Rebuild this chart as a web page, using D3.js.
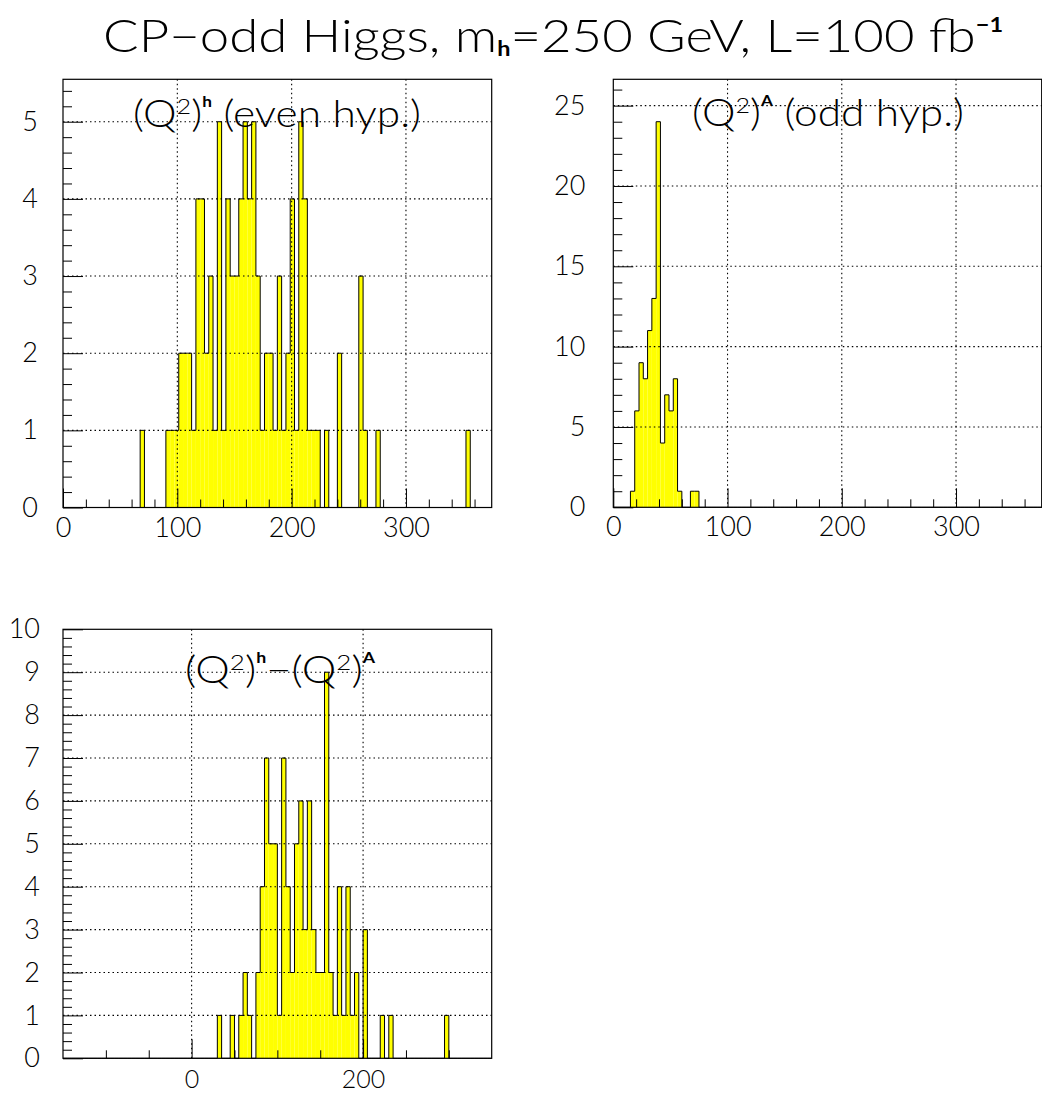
<!DOCTYPE html>
<html>
<head>
<meta charset="utf-8">
<script src="https://cdn.jsdelivr.net/npm/d3@7"></script>
<style>
  body { margin: 0; background: #fff; }
  svg { display: block; }
  text { font-family: Lato, "Liberation Sans", Arial, sans-serif; font-weight: 300; fill: #000; }
</style>
</head>
<body>
<svg id="chart" width="1042" height="1093"></svg>
<script>
// Bin counts, 100 bins each
// (Q^2)^h, even hypothesis: bins of 3.75 from 0 to 375
const countsEven = [
  0,0,0,0,0,0,0,0,0,0,
  0,0,0,0,0,0,0,0,1,0,
  0,0,0,0,1,1,1,2,2,2,
  1,4,4,2,3,1,5,1,4,3,
  3,4,5,4,5,3,1,2,2,1,
  3,1,2,4,1,5,4,1,1,1,
  0,1,0,0,2,0,0,0,0,3,
  1,0,0,1,0,0,0,0,0,0,
  0,0,0,0,0,0,0,0,0,0,
  0,0,0,0,1,0,0,0,0,0
];
// (Q^2)^A, odd hypothesis: bins of 3.75 from 0 to 375
const countsOdd = [
  0,0,0,0,1,6,9,8,11,13,
  24,4,7,6,8,1,0,0,1,1,
  0,0,0,0,0,0,0,0,0,0,
  0,0,0,0,0,0,0,0,0,0,
  0,0,0,0,0,0,0,0,0,0,
  0,0,0,0,0,0,0,0,0,0,
  0,0,0,0,0,0,0,0,0,0,
  0,0,0,0,0,0,0,0,0,0,
  0,0,0,0,0,0,0,0,0,0,
  0,0,0,0,0,0,0,0,0,0
];
// (Q^2)^h - (Q^2)^A: bins of 5 from -150 to 350
const countsDiff = [
  0,0,0,0,0,0,0,0,0,0,
  0,0,0,0,0,0,0,0,0,0,
  0,0,0,0,0,0,0,0,0,0,
  0,0,0,0,0,0,1,0,0,1,
  0,1,2,1,0,2,4,7,5,5,
  1,7,4,2,5,6,3,6,3,2,
  2,9,2,1,4,1,4,1,2,0,
  3,0,0,0,1,0,1,0,0,0,
  0,0,0,0,0,0,0,0,0,1,
  0,0,0,0,0,0,0,0,0,0
];

const xRangeQ = [0, 375];
const xRangeDiff = [-150, 350];
const xLabelsQ = [0, 100, 200, 300];
const xLabelsDiff = [0, 200];
const yLabelsEven = [0, 1, 2, 3, 4, 5];
const yLabelsOdd = [0, 5, 10, 15, 20, 25];
const yLabelsDiff = [0, 1, 2, 3, 4, 5, 6, 7, 8, 9, 10];

const svg = d3.select("#chart");
const FONT = 'Lato, "Liberation Sans", Arial, sans-serif';

function drawPanel(p) {
  const g = svg.append("g");
  const x = d3.scaleLinear().domain(p.xDomain).range([p.left, p.right]);
  const y = d3.scaleLinear().domain([0, p.yMax]).range([p.bottom, p.top]);
  const n = p.counts.length;
  const w = (p.xDomain[1] - p.xDomain[0]) / n;
  const bins = p.counts.map((c, i) => ({ x0: p.xDomain[0] + i * w, x1: p.xDomain[0] + (i + 1) * w, c }));

  // filled bars
  g.append("g").selectAll("rect")
    .data(bins.filter(b => b.c > 0))
    .join("rect")
    .attr("x", b => x(b.x0))
    .attr("width", b => x(b.x1) - x(b.x0))
    .attr("y", b => y(b.c))
    .attr("height", b => y(0) - y(b.c))
    .attr("fill", "#ffff00");

  // step outline
  const pts = [[p.xDomain[0], 0]];
  bins.forEach(b => { pts.push([b.x0, b.c]); pts.push([b.x1, b.c]); });
  pts.push([p.xDomain[1], 0]);
  g.append("path")
    .attr("d", d3.line().x(d => x(d[0])).y(d => y(d[1]))(pts))
    .attr("fill", "none")
    .attr("stroke", "#000")
    .attr("stroke-width", 1);

  // dotted grid
  const gridX = p.xMajor.filter(v => v > p.xDomain[0] && v < p.xDomain[1]);
  const gridY = p.yMajor.filter(v => v > 0 && v < p.yMax);
  const grid = g.append("g").attr("stroke", "#000").attr("stroke-width", 1.1).attr("stroke-dasharray", "1.5,3");
  grid.selectAll("line.gx").data(gridX).join("line")
    .attr("x1", d => x(d)).attr("x2", d => x(d))
    .attr("y1", p.top).attr("y2", p.bottom);
  grid.selectAll("line.gy").data(gridY).join("line")
    .attr("x1", p.left).attr("x2", p.right)
    .attr("y1", d => y(d)).attr("y2", d => y(d));

  // x axis: major ticks with labels, minor ticks
  const xMinor = d3.range(p.xDomain[0], p.xDomain[1] + 1e-6, p.xMinorStep)
    .filter(v => !p.xMajor.includes(v) && v > p.xDomain[0] && v < p.xDomain[1]);
  const ax = g.append("g").attr("transform", `translate(0,${p.bottom})`)
    .call(d3.axisBottom(x).tickValues(p.xMajor).tickSize(-19).tickPadding(p.xPad).tickFormat(d3.format("d")));
  ax.append("g").call(d3.axisBottom(x).tickValues(xMinor).tickSize(-8).tickFormat(""));
  ax.selectAll(".domain").remove();
  ax.selectAll("text").attr("font-size", p.xFont).attr("font-family", FONT).attr("font-weight", 300).attr("fill", "#000");
  ax.selectAll("line").attr("stroke", "#000");

  // y axis
  const yMinor = d3.range(0, p.yMax + 1e-6, p.yMinorStep)
    .map(v => +v.toFixed(4))
    .filter(v => !p.yMajor.includes(v) && v > 0 && v < p.yMax);
  const ay = g.append("g").attr("transform", `translate(${p.left},0)`)
    .call(d3.axisLeft(y).tickValues(p.yMajor).tickSize(-20).tickPadding(p.yPad).tickFormat(d3.format("d")));
  ay.append("g").call(d3.axisLeft(y).tickValues(yMinor).tickSize(-9).tickFormat(""));
  ay.selectAll(".domain").remove();
  ay.selectAll("text").attr("font-size", 27).attr("font-family", FONT).attr("font-weight", 300).attr("fill", "#000");
  ay.selectAll("line").attr("stroke", "#000");

  // frame
  g.append("rect")
    .attr("x", p.left).attr("y", p.top)
    .attr("width", p.right - p.left).attr("height", p.bottom - p.top)
    .attr("fill", "none").attr("stroke", "#000").attr("stroke-width", 1.2);

  // panel caption
  const t = g.append("text")
    .attr("x", p.labelX).attr("y", p.labelY)
    .attr("font-size", 37)
    .attr("textLength", p.labelLen)
    .attr("lengthAdjust", "spacingAndGlyphs");
  p.label.forEach(part => {
    const ts = t.append("tspan").text(part.s);
    if (part.sup === "num") ts.attr("font-size", 22).attr("dy", -13);
    if (part.sup === "let") ts.attr("font-size", 15).attr("font-weight", "bold").attr("dy", -20);
    if (part.back) ts.attr("dy", part.back);
  });
}

const Q2h = [{ s: "(Q" }, { s: "2", sup: "num" }, { s: ")", back: 13 }, { s: "h", sup: "let" }];
const Q2A = [{ s: "(Q" }, { s: "2", sup: "num" }, { s: ")", back: 13 }, { s: "A", sup: "let" }];

drawPanel({
  left: 63, right: 491.7, top: 79.3, bottom: 507.5,
  xDomain: xRangeQ, yMax: 5.55, counts: countsEven,
  xMajor: xLabelsQ, xMinorStep: 20, yMajor: yLabelsEven, yMinorStep: 0.2,
  xPad: 10, yPad: 25, xFont: 27,
  label: [...Q2h, { s: " (even hyp.)", back: 20 }], labelX: 133, labelY: 127, labelLen: 288
});

drawPanel({
  left: 613.3, right: 1041.7, top: 79.3, bottom: 507.3,
  xDomain: xRangeQ, yMax: 26.64, counts: countsOdd,
  xMajor: xLabelsQ, xMinorStep: 20, yMajor: yLabelsOdd, yMinorStep: 1,
  xPad: 10, yPad: 28, xFont: 27,
  label: [...Q2A, { s: " (odd hyp.)", back: 20 }], labelX: 692, labelY: 126, labelLen: 272
});

drawPanel({
  left: 63, right: 491.7, top: 629.3, bottom: 1058.3,
  xDomain: xRangeDiff, yMax: 10, counts: countsDiff,
  xMajor: xLabelsDiff, xMinorStep: 50, yMajor: yLabelsDiff, yMinorStep: 0.2,
  xPad: 12, yPad: 23, xFont: 25,
  label: [...Q2h, { s: "\u2212(Q", back: 20 }, { s: "2", sup: "num" }, { s: ")", back: 13 }, { s: "A", sup: "let" }],
  labelX: 185, labelY: 683, labelLen: 190
});

// main title
const title = svg.append("text")
  .attr("x", 103).attr("y", 52)
  .attr("font-size", 45)
  .attr("textLength", 900)
  .attr("lengthAdjust", "spacingAndGlyphs");
title.append("tspan").text("CP\u2212odd Higgs, m");
title.append("tspan").text("h").attr("font-size", 20).attr("font-weight", "bold").attr("dy", 4);
title.append("tspan").text("=250 GeV, L=100 fb").attr("dy", -4);
title.append("tspan").text("\u22121").attr("font-size", 20).attr("font-weight", "bold").attr("dy", -20);
</script>
</body>
</html>
